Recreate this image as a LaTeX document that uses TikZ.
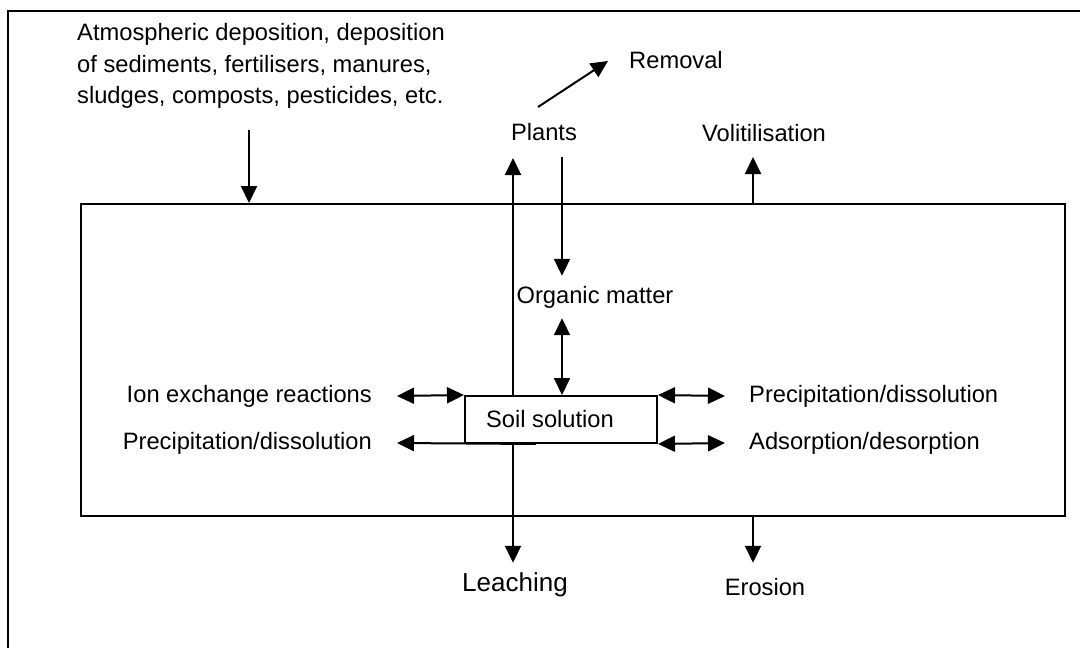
\documentclass[tikz,border=0pt]{standalone}
\usepackage{fontspec}
\setmainfont{Liberation Sans}
\usetikzlibrary{arrows.meta}
\begin{document}
\begin{tikzpicture}[x=1pt,y=-1pt,
  every node/.style={font=\fontsize{23.7}{31.5}\selectfont},
  line/.style={line width=2pt},
  arr/.style={line width=2pt,-{Triangle[length=17pt,width=16pt]}},
  darr/.style={line width=2pt,{Triangle[length=17pt,width=16pt]}-{Triangle[length=17pt,width=16pt]}},
  lbl/.style={inner sep=0pt}]
\useasboundingbox (0,0) rectangle (1080,648);
% outer frame (cut by page edge)
\coordinate (fbl) at (8,650);
\coordinate (ftl) at (8,11);
\coordinate (ftr) at (1082,11);
\draw[line] (fbl) -- (ftl) -- (ftr);
% main box
\node[draw,line width=2pt,minimum width=984pt,minimum height=312pt,inner sep=0pt] (main) at (573,360) {};
% soil solution box
\node[draw,line width=2pt,minimum width=192pt,minimum height=47pt,inner sep=0pt] (soil) at (561,419.5) {\kern-22pt Soil solution};
% texts
\node[lbl,anchor=west,align=left] (atm) at (77,66) {Atmospheric deposition, deposition\\of sediments, fertilisers, manures,\\sludges, composts, pesticides, etc.};
\node[lbl] (plants) at (544,132) {Plants};
\node[lbl] (removal) at (676,60) {Removal};
\node[lbl] (vol) at (764,133) {Volitilisation};
\node[inner sep=0pt,minimum height=42pt] (org) at (595,297) {Organic matter};
\node[anchor=east,inner xsep=25pt,inner ysep=0pt] (ion) at (397,396) {Ion exchange reactions};
\node[anchor=east,inner xsep=25pt,inner ysep=0pt] (precL) at (397,443) {Precipitation/dissolution};
\node[anchor=west,inner xsep=24pt,inner ysep=0pt] (precR) at (725,396) {Precipitation/dissolution};
\node[anchor=west,inner xsep=24pt,inner ysep=0pt] (ads) at (725,443) {Adsorption/desorption};
\node[inner sep=0pt,minimum height=44pt,font=\fontsize{26}{30}\selectfont] (leach) at (515,585) {Leaching};
\node[inner sep=0pt,minimum height=48pt] (eros) at (765,587) {Erosion};
% coordinates for free ends
\coordinate (atmS) at (249,130);
\coordinate (pu) at (513,158);
\coordinate (pd) at (562,157);
\coordinate (remA) at (538,107);
\coordinate (remB) at (608,61);
\coordinate (volS) at (753,157);
% connectors
\draw[arr] (atmS) -- (atmS |- main.north);
\draw[arr] (pu |- soil.north) -- (pu);
\draw[arr] (pd) -- (pd |- org.north);
\draw[darr] (pd |- org.south) -- (pd |- soil.north);
\draw[arr] (remA) -- (remB);
\draw[arr] (volS |- main.north) -- (volS);
\draw[darr] (ion.east) -- (soil.north west);
\draw[arr] ([xshift=72pt]soil.south west) -- (precL.east);
\draw[darr] (soil.north east) -- (precR.west);
\draw[darr] (soil.south east) -- (ads.west);
\draw[arr] (pu |- soil.south) -- (pu |- leach.north);
\draw[arr] (volS |- main.south) -- (volS |- eros.north);
\end{tikzpicture}
\end{document}
